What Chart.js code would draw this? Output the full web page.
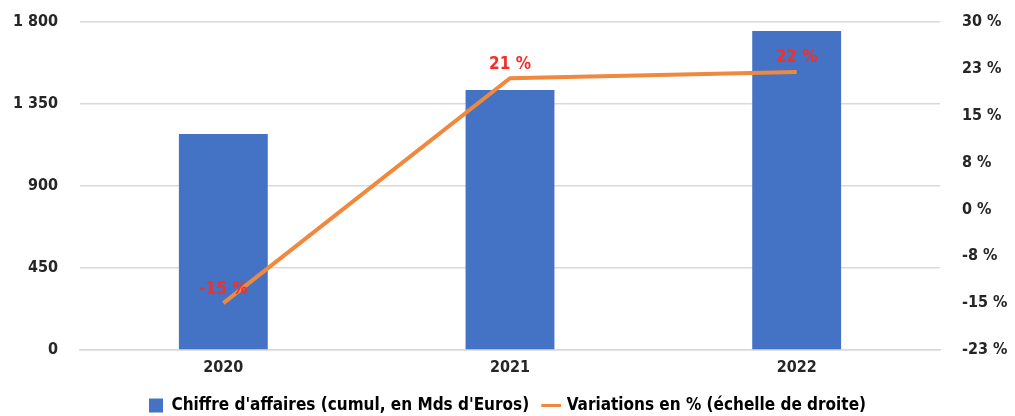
<!DOCTYPE html>
<html lang="fr">
<head>
<meta charset="UTF-8">
<title>Chiffre d'affaires et variations</title>
<script src="https://cdn.jsdelivr.net/npm/chart.js"></script>
<style>
  html, body { margin: 0; padding: 0; background: #fff; }
  #wrap { width: 1015px; height: 416px; }
</style>
</head>
<body>
<div id="wrap"><canvas id="combo"></canvas></div>
<script>
// data
var years = ['2020', '2021', '2022'];
var caValues = [1185, 1427, 1751];        // chiffre d'affaires, Mds d'Euros
var variations = [-15, 21, 22];           // variation en %
var variationLabels = ['-15 %', '21 %', '22 %'];

var FONT = "'Liberation Sans Narrow', 'DejaVu Sans Condensed', 'Liberation Sans', sans-serif";
var TXT = '#262626';

function roundHalfAway(v) {
    return v < 0 ? -Math.round(-v) : Math.round(v);
}

// draws the red % labels above the line points
var pointLabels = {
    id: 'pointLabels',
    afterDatasetsDraw: function (chart) {
        var meta = chart.getDatasetMeta(1);
        var ctx = chart.ctx;
        ctx.save();
        ctx.font = 'bold 17px ' + FONT;
        ctx.fillStyle = '#f2302a';
        ctx.textAlign = 'center';
        ctx.textBaseline = 'middle';
        meta.data.forEach(function (pt, i) {
            ctx.fillText(variationLabels[i], pt.x, pt.y - 14);
        });
        ctx.restore();
    }
};

// keep the legend box short so the plot reaches down like the original
var legendHeight = {
    id: 'legendHeight',
    beforeInit: function (chart) {
        var fit = chart.legend.fit;
        chart.legend.fit = function () {
            fit.call(this);
            this.height = 34;
        };
    }
};

// fixed axis widths, no extra overhang padding at top / bottom
function fixWidth(w) {
    return function (s) {
        s.width = w;
        s.paddingTop = 0;
        s.paddingBottom = 0;
    };
}

var ctx = document.getElementById('combo').getContext('2d');
var chart = new Chart(ctx, {
    type: 'bar',
    data: {
        labels: years,
        datasets: [{
            label: "Chiffre d'affaires (cumul, en Mds d'Euros)",
            data: caValues,
            backgroundColor: '#4472c4',
            yAxisID: 'y',
            categoryPercentage: 1,
            barPercentage: 0.31,
            order: 2
        }, {
            label: 'Variations en % (échelle de droite)',
            type: 'line',
            data: variations,
            borderColor: '#f0883e',
            backgroundColor: '#f0883e',
            borderWidth: 4,
            pointRadius: 0,
            tension: 0,
            yAxisID: 'y1',
            order: 1
        }]
    },
    options: {
        responsive: true,
        maintainAspectRatio: false,
        animation: false,
        layout: { padding: { top: 22, bottom: 0, left: 0, right: 0 } },
        scales: {
            x: {
                grid: { display: false },
                border: { color: '#d9d9d9', width: 1.5 },
                ticks: { color: TXT, font: { family: FONT, size: 16, weight: 'bold' }, padding: 0 },
                afterFit: function (s) { s.height = 32; }
            },
            y: {
                position: 'left',
                min: 0, max: 1800,
                ticks: {
                    stepSize: 450,
                    color: TXT,
                    padding: 22,
                    font: { family: FONT, size: 16, weight: 'bold' },
                    callback: function (v) { return String(v).replace(/\B(?=(\d{3})+(?!\d))/g, ' '); }
                },
                grid: { color: '#d9d9d9', lineWidth: 1.5, drawTicks: false },
                border: { display: false },
                afterFit: fixWidth(80)
            },
            y1: {
                position: 'right',
                min: -22.5, max: 30,
                ticks: {
                    stepSize: 7.5,
                    color: TXT,
                    padding: 22,
                    font: { family: FONT, size: 16, weight: 'bold' },
                    callback: function (v) { return roundHalfAway(v) + ' %'; }
                },
                grid: { display: false, drawTicks: false },
                border: { display: false },
                afterFit: fixWidth(75)
            }
        },
        plugins: {
            legend: {
                position: 'bottom',
                labels: {
                    color: TXT,
                    font: { family: FONT, size: 17, weight: 'bold' },
                    usePointStyle: true,
                    boxWidth: 14,
                    boxHeight: 14,
                    padding: 15,
                    generateLabels: function (c) {
                        return c.data.datasets.map(function (ds, i) {
                            return {
                                text: ds.label,
                                fillStyle: ds.backgroundColor,
                                strokeStyle: ds.type === 'line' ? ds.borderColor : ds.backgroundColor,
                                lineWidth: ds.type === 'line' ? 3 : 0,
                                pointStyle: ds.type === 'line' ? 'line' : 'rect',
                                datasetIndex: i,
                                hidden: false
                            };
                        });
                    }
                }
            },
            tooltip: { enabled: false }
        }
    },
    plugins: [pointLabels, legendHeight]
});
</script>
</body>
</html>
